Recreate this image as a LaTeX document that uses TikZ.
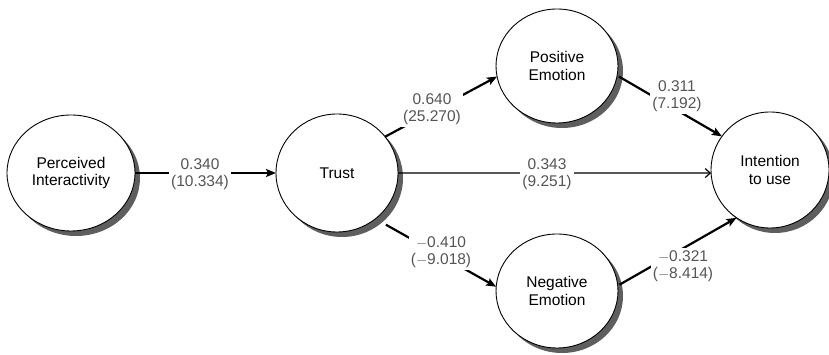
\documentclass[tikz,border=0pt]{standalone}
\usepackage{fontspec}
\setmainfont{Liberation Sans}
\usetikzlibrary{shapes.geometric,arrows.meta,shadows}
\definecolor{labgray}{HTML}{555555}
\definecolor{shadowgray}{HTML}{5E5E5E}
\begin{document}
\begin{tikzpicture}[x=1pt,y=1pt,
  construct/.style={ellipse, draw=black, line width=0.9pt, fill=white, inner sep=0pt, outer sep=0pt,
    align=center, font=\fontsize{15.5}{17.5}\selectfont,
    drop shadow={shadow xshift=5pt, shadow yshift=-5pt, fill=shadowgray, opacity=1}},
  conn/.style={line width=2.2pt, -{Stealth[length=10pt,width=8pt,inset=2pt]}},
  thinconn/.style={line width=1.2pt, -{Straight Barb[length=5pt,width=9pt,line width=1.2pt]}},
  coef/.style={fill=white, inner sep=2pt, align=center, text=labgray, font=\fontsize{15.5}{17.5}\selectfont}]
\useasboundingbox (0,0) rectangle (829,355);
\fill[white] (0,0) rectangle (829,355);
% constructs
\node[construct, minimum width=128pt, minimum height=116pt] (perc) at (71,182) {Perceived\\Interactivity};
\node[construct, minimum width=122pt, minimum height=118pt] (trust) at (337,182) {Trust};
\node[construct, minimum width=122pt, minimum height=114pt] (pos) at (557,289) {Positive\\Emotion};
\node[construct, minimum width=122pt, minimum height=114pt] (neg) at (557,64) {Negative\\Emotion};
\node[construct, minimum width=118pt, minimum height=116pt] (int) at (770,185) {Intention\\to use};
% connectors
\draw[conn] (perc.east) -- (trust.west);
\draw[conn] (trust.37) -- (pos.190);
\draw[conn, shorten <=12pt] (trust.-50) -- (neg.176);
\draw[thinconn] (trust.east) -- (int.183);
\draw[conn, shorten <=2pt] (pos.-9) -- (int.145);
\draw[conn, shorten <=2pt] (neg.5) -- (int.235);
% coefficients
\node[coef] (l1) at (200,181) {0.340\\(10.334)};
\node[coef] (l2) at (432,246) {0.640\\(25.270)};
\node[coef] (l3) at (441,103) {$-$0.410\\($-$9.018)};
\node[coef] (l4) at (547,181) {0.343\\(9.251)};
\node[coef] (l5) at (677,259) {0.311\\(7.192)};
\node[coef] (l6) at (683,89) {$-$0.321\\($-$8.414)};
\end{tikzpicture}
\end{document}
